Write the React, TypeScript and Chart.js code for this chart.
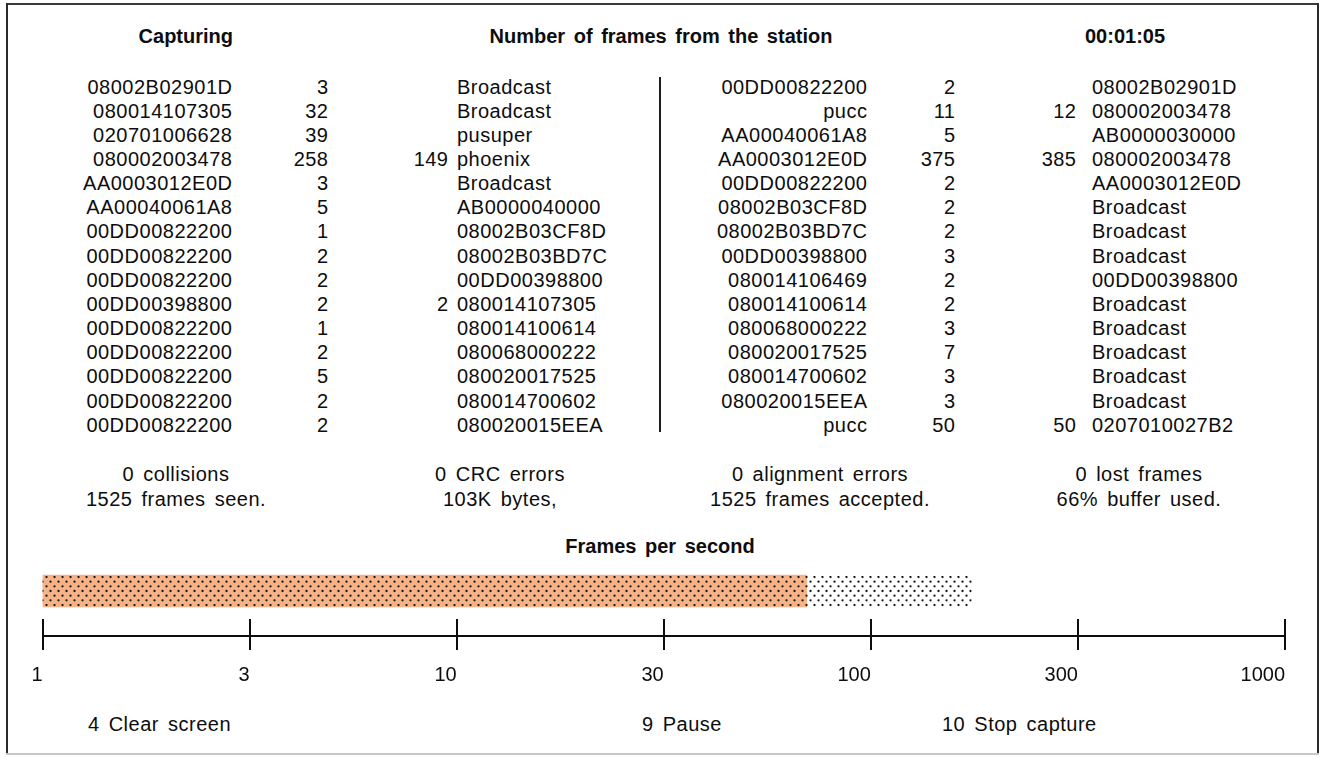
import React, { useEffect, useRef } from 'react';
import { Chart, registerables } from 'chart.js';

Chart.register(...registerables);

// ---- Data -------------------------------------------------------------
const headerLabels = ['Capturing', 'Number of frames from the station', '00:01:05'];

const leftStations = ['08002B02901D', '080014107305', '020701006628', '080002003478', 'AA0003012E0D', 'AA00040061A8', '00DD00822200', '00DD00822200', '00DD00822200', '00DD00398800', '00DD00822200', '00DD00822200', '00DD00822200', '00DD00822200', '00DD00822200'];
const leftCounts = ['3', '32', '39', '258', '3', '5', '1', '2', '2', '2', '1', '2', '5', '2', '2'];
const leftReplies = ['', '', '', '149', '', '', '', '', '', '2', '', '', '', '', ''];
const leftPeers = ['Broadcast', 'Broadcast', 'pusuper', 'phoenix', 'Broadcast', 'AB0000040000', '08002B03CF8D', '08002B03BD7C', '00DD00398800', '080014107305', '080014100614', '080068000222', '080020017525', '080014700602', '080020015EEA'];

const rightStations = ['00DD00822200', 'pucc', 'AA00040061A8', 'AA0003012E0D', '00DD00822200', '08002B03CF8D', '08002B03BD7C', '00DD00398800', '080014106469', '080014100614', '080068000222', '080020017525', '080014700602', '080020015EEA', 'pucc'];
const rightCounts = ['2', '11', '5', '375', '2', '2', '2', '3', '2', '2', '3', '7', '3', '3', '50'];
const rightReplies = ['', '12', '', '385', '', '', '', '', '', '', '', '', '', '', '50'];
const rightPeers = ['08002B02901D', '080002003478', 'AB0000030000', '080002003478', 'AA0003012E0D', 'Broadcast', 'Broadcast', 'Broadcast', '00DD00398800', 'Broadcast', 'Broadcast', 'Broadcast', 'Broadcast', 'Broadcast', '0207010027B2'];

const statsLine1 = ['0 collisions', '0 CRC errors', '0 alignment errors', '0 lost frames'];
const statsLine2 = ['1525 frames seen.', '103K bytes,', '1525 frames accepted.', '66% buffer used.'];

const chartTitle = 'Frames per second';
const fpsSeries = ['Current', 'Peak'];
const fpsValues = [70, 175];
const axisTickValues = [1, 3.162, 10, 31.62, 100, 316.2, 1000];
const axisTickLabels = ['1', '3', '10', '30', '100', '300', '1000'];

const commands = ['4 Clear screen', '9 Pause', '10 Stop capture'];

// ---- Layout helpers ------------------------------------------------------
const FONT = '"Liberation Sans", Arial, Helvetica, sans-serif';
const INK = '#0d0d0d';
const W = 1322;

type TProps = { x: number; y: number; align?: 'left' | 'right' | 'center'; bold?: boolean; children: React.ReactNode };

function T({ x, y, align = 'left', bold = false, children }: TProps) {
  const style: React.CSSProperties = {
    position: 'absolute',
    top: y - 12,
    height: 24,
    lineHeight: '24px',
    whiteSpace: 'nowrap',
    fontWeight: bold ? 700 : 400,
    letterSpacing: bold ? '0px' : '0.5px',
  };
  if (align === 'left') style.left = x;
  else if (align === 'right') style.right = W - x;
  else {
    style.left = x - 250;
    style.width = 500;
    style.textAlign = 'center';
  }
  return <div style={style}>{children}</div>;
}

const rowY = (i: number) => 86.5 + i * 24.16;

function FpsChart() {
  const ref = useRef<HTMLCanvasElement>(null);
  useEffect(() => {
    const canvas = ref.current;
    if (!canvas) return;
    const ctx = canvas.getContext('2d')!;
    const makePattern = (bg: string) => {
      const c = document.createElement('canvas');
      c.width = 8;
      c.height = 28;
      const g = c.getContext('2d')!;
      g.fillStyle = bg;
      g.fillRect(0, 0, 8, 28);
      g.fillStyle = '#141414';
      for (let r = 0; r < 6; r++) {
        const y = 1 + (r * 28) / 6;
        const x = r % 2 === 0 ? 6.5 : 2.5;
        g.beginPath();
        g.arc(x, y, 1.15, 0, Math.PI * 2);
        g.fill();
      }
      return ctx.createPattern(c, 'repeat')!;
    };
    const salmon = makePattern('#F7B388');
    const white = makePattern('#FFFFFF');

    const upperTicks = {
      id: 'upperTicks',
      afterDraw(chart: any) {
        const s = chart.scales.x;
        const c2 = chart.ctx;
        c2.save();
        c2.strokeStyle = INK;
        c2.lineWidth = 2;
        s.ticks.forEach((t: any) => {
          const px = Math.round(s.getPixelForValue(t.value));
          c2.beginPath();
          c2.moveTo(px, s.top - 17);
          c2.lineTo(px, s.top);
          c2.stroke();
        });
        c2.restore();
      },
    };

    const chart = new Chart(canvas, {
      type: 'bar',
      data: {
        labels: ['fps'],
        datasets: [
          {
            label: fpsSeries[0],
            data: [[axisTickValues[0], fpsValues[0]]] as any,
            backgroundColor: salmon as any,
            borderWidth: 0,
            barThickness: 32,
            grouped: false,
          },
          {
            label: fpsSeries[1],
            data: [[fpsValues[0], fpsValues[1]]] as any,
            backgroundColor: white as any,
            borderWidth: 0,
            barThickness: 32,
            grouped: false,
          },
        ],
      },
      options: {
        indexAxis: 'y',
        animation: false,
        responsive: true,
        maintainAspectRatio: false,
        events: [],
        layout: { padding: { left: 42.5, right: 37, top: 26, bottom: 0 } },
        plugins: {
          legend: { display: false },
          tooltip: { enabled: false },
          title: { display: false },
        },
        scales: {
          y: { type: 'category', display: false },
          x: {
            type: 'logarithmic',
            min: 1,
            max: 1000,
            position: 'bottom',
            afterBuildTicks: (s: any) => {
              s.ticks = axisTickValues.map((v) => ({ value: v }));
            },
            afterFit: (s: any) => {
              s.height = 64;
            },
            grid: { drawOnChartArea: false, drawTicks: true, tickLength: 14, color: INK, lineWidth: 2 },
            border: { display: true, color: INK, width: 2 },
            ticks: {
              align: 'end',
              padding: 13,
              color: INK,
              autoSkip: false,
              maxRotation: 0,
              font: { family: FONT, size: 20 },
              callback: (_v: any, i: number) => axisTickLabels[i],
            },
          } as any,
        },
      },
      plugins: [upperTicks],
    });
    return () => chart.destroy();
  }, []);
  return (
    <div style={{ position: 'absolute', left: 0, top: 520, width: W, height: 180 }}>
      <canvas ref={ref} />
    </div>
  );
}

export default function App() {
  const leftCols = [232, 328, 448, 457];
  const rightCols = [867, 955, 1076, 1092];
  const statCenters = [176, 500, 820, 1139];
  const cmdLefts = [88, 642, 942];
  return (
    <div
      style={{
        position: 'absolute',
        left: 0,
        top: 0,
        width: W,
        height: 757,
        overflow: 'hidden',
        background: '#fff',
        color: INK,
        fontFamily: FONT,
        fontSize: 20,
        wordSpacing: '3px',
      }}
    >
      {/* frame */}
      <div style={{ position: 'absolute', left: 6, top: 3, width: 1313, height: 2, background: '#3a3a3a' }} />
      <div style={{ position: 'absolute', left: 6, top: 3, width: 2, height: 752, background: '#2a2a2a' }} />
      <div style={{ position: 'absolute', left: 1317, top: 3, width: 2, height: 750, background: '#2a2a2a' }} />
      <div style={{ position: 'absolute', left: 6, top: 753, width: 1313, height: 2, background: '#c8c8c8' }} />
      {/* divider */}
      <div style={{ position: 'absolute', left: 659, top: 77, width: 2, height: 355, background: '#1c1c1c' }} />

      {/* headers */}
      <T x={233} y={36} align="right" bold>{headerLabels[0]}</T>
      <T x={661} y={36} align="center" bold>{headerLabels[1]}</T>
      <T x={1085} y={36} bold>{headerLabels[2]}</T>

      {leftStations.map((s, i) => (
        <React.Fragment key={'l' + i}>
          <T x={leftCols[0] + 0.5} y={rowY(i)} align="right">{s}</T>
          <T x={leftCols[1] + 0.5} y={rowY(i)} align="right">{leftCounts[i]}</T>
          {leftReplies[i] && <T x={leftCols[2] + 0.5} y={rowY(i)} align="right">{leftReplies[i]}</T>}
          <T x={leftCols[3]} y={rowY(i)}>{leftPeers[i]}</T>
        </React.Fragment>
      ))}
      {rightStations.map((s, i) => (
        <React.Fragment key={'r' + i}>
          <T x={rightCols[0] + 0.5} y={rowY(i)} align="right">{s}</T>
          <T x={rightCols[1] + 0.5} y={rowY(i)} align="right">{rightCounts[i]}</T>
          {rightReplies[i] && <T x={rightCols[2] + 0.5} y={rowY(i)} align="right">{rightReplies[i]}</T>}
          <T x={rightCols[3]} y={rowY(i)}>{rightPeers[i]}</T>
        </React.Fragment>
      ))}

      {statsLine1.map((s, i) => (
        <T key={'s1' + i} x={statCenters[i]} y={474} align="center">{s}</T>
      ))}
      {statsLine2.map((s, i) => (
        <T key={'s2' + i} x={statCenters[i]} y={499} align="center">{s}</T>
      ))}

      <T x={660} y={546} align="center" bold>{chartTitle}</T>
      <FpsChart />

      {commands.map((c, i) => (
        <T key={'c' + i} x={cmdLefts[i]} y={724}>{c}</T>
      ))}
    </div>
  );
}
